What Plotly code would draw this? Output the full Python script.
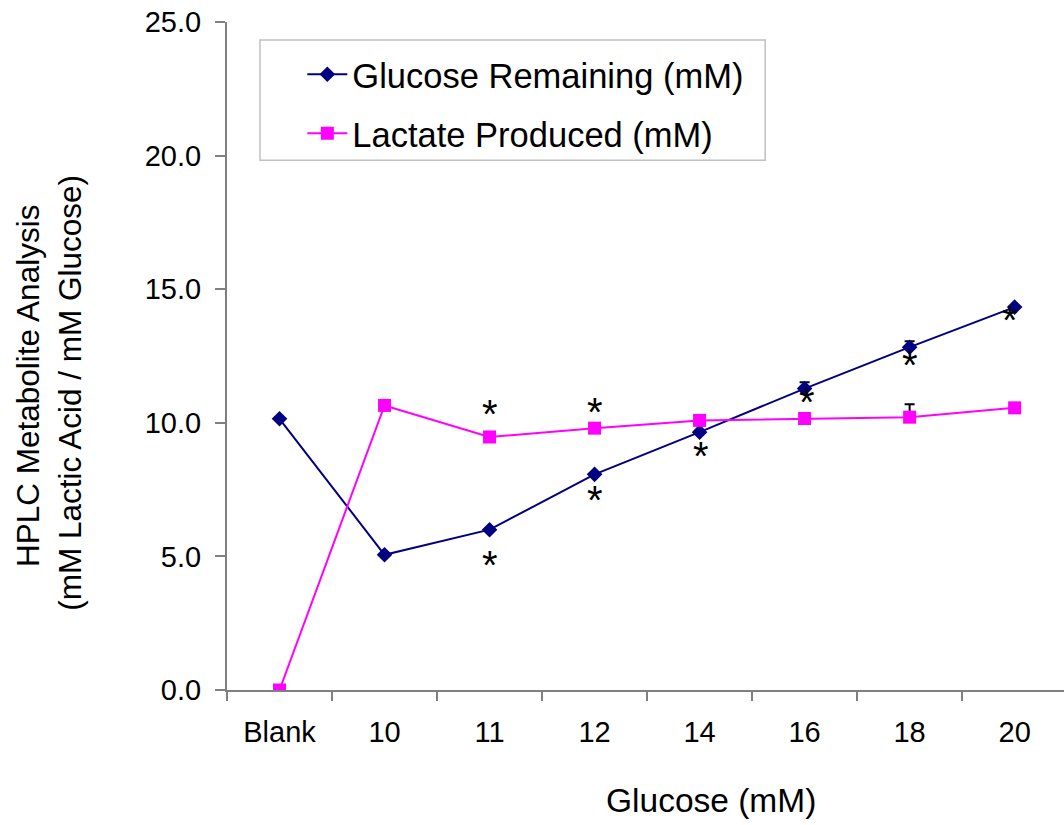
import plotly.graph_objects as go

# Glucose concentration groups
categories = ["Blank", "10", "11", "12", "14", "16", "18", "20"]

# Measured metabolite levels (mM)
glucose_remaining = [10.15, 5.06, 6.00, 8.07, 9.65, 11.28, 12.83, 14.33]
lactate_produced = [0.0, 10.65, 9.47, 9.80, 10.09, 10.16, 10.21, 10.56]

# Upper error (SD) for each point
glucose_err = [0.0, 0.0, 0.0, 0.0, 0.0, 0.24, 0.22, 0.0]
lactate_err = [0.0, 0.0, 0.0, 0.0, 0.0, 0.0, 0.48, 0.0]

# Significance markers: (category, value)
sig_cats = ["11", "11", "12", "12", "14", "16", "18", "20"]
sig_vals = [10.52, 4.85, 10.58, 7.28, 8.96, 10.96, 12.36, 14.02]
sig_dx = [0, 0, 0, 0, 1, 2, 0, -5]  # small horizontal nudges in px

FONT = "Liberation Sans, Arial, sans-serif"

fig = go.Figure()

fig.add_trace(go.Scatter(
    x=categories, y=glucose_remaining, mode="lines+markers",
    name="Glucose Remaining (mM)", legendgroup="g",
    line=dict(color="#000080", width=2),
    marker=dict(symbol="diamond", size=12, color="#000080"),
    error_y=dict(type="data", array=glucose_err, symmetric=False,
                 arrayminus=[0] * len(glucose_err),
                 color="black", thickness=2, width=5),
))
fig.add_trace(go.Scatter(
    x=categories, y=lactate_produced, mode="lines+markers",
    name="Lactate Produced (mM)", legendgroup="l",
    line=dict(color="#FF00FF", width=2),
    marker=dict(symbol="square", size=13, color="#FF00FF"),
    error_y=dict(type="data", array=lactate_err, symmetric=False,
                 arrayminus=[0] * len(lactate_err),
                 color="black", thickness=2, width=5),
))

annotations = []
for c, v, dx in zip(sig_cats, sig_vals, sig_dx):
    # category axes position annotations by index
    annotations.append(dict(
        x=categories.index(c), y=v, xref="x", yref="y", text="*",
        showarrow=False,
        font=dict(family=FONT, size=40, color="black"),
        xanchor="center", yanchor="middle", yshift=-5, xshift=dx,
    ))

# Axis titles
annotations.append(dict(
    x=0.578, y=-0.165, xref="paper", yref="paper", text="Glucose (mM)",
    showarrow=False, font=dict(family=FONT, size=33.5, color="black"),
    xanchor="center", yanchor="middle",
))
annotations.append(dict(
    x=-0.2378, y=0.455, xref="paper", yref="paper",
    text="HPLC Metabolite Analysis", textangle=-90,
    showarrow=False, font=dict(family=FONT, size=31.5, color="black"),
    xanchor="center", yanchor="middle",
))
annotations.append(dict(
    x=-0.1876, y=0.445, xref="paper", yref="paper",
    text="(mM Lactic Acid / mM Glucose)", textangle=-90,
    showarrow=False, font=dict(family=FONT, size=31.5, color="black"),
    xanchor="center", yanchor="middle",
))

fig.update_layout(
    width=1064, height=825,
    margin=dict(l=227, r=0, t=22, b=135),
    paper_bgcolor="white", plot_bgcolor="white",
    font=dict(family=FONT, color="black"),
    showlegend=True,
    legend=dict(
        x=0.09, y=0.965, xanchor="left", yanchor="top",
        bgcolor="rgba(0,0,0,0)", borderwidth=0,
        font=dict(family=FONT, size=34.5, color="black"),
        tracegroupgap=11, itemwidth=40,
    ),
    shapes=[dict(
        type="rect", xref="paper", yref="paper",
        x0=0.0394, x1=0.643, y0=0.793, y1=0.973,
        line=dict(color="#c0c0c0", width=1.5), fillcolor="rgba(0,0,0,0)",
    )],
    annotations=annotations,
    xaxis=dict(
        type="category", range=[-0.5, 7.47],
        showline=True, linecolor="#808080", linewidth=2,
        ticks="outside", ticklen=9, tickcolor="#808080", tickwidth=1.5,
        tickson="boundaries", showgrid=False, zeroline=False,
        tickfont=dict(family=FONT, size=29, color="black"),
        ticklabelstandoff=15,
    ),
    yaxis=dict(
        range=[0, 25], tickvals=[0, 5, 10, 15, 20, 25], tickformat=".1f",
        showline=True, linecolor="#808080", linewidth=2,
        ticks="outside", ticklen=10, tickcolor="#808080", tickwidth=1.5,
        showgrid=False, zeroline=False,
        tickfont=dict(family=FONT, size=29, color="black"),
        ticklabelstandoff=8,
    ),
)

fig.write_html("out.html")
